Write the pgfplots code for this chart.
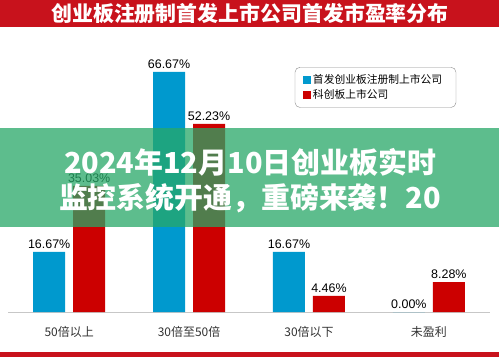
\documentclass[border=0pt]{standalone}
\usepackage{pgfplots}
\pgfplotsset{compat=1.18}
\usepackage{fontspec}
\setmainfont{Liberation Sans}
\newfontfamily\cjk{Noto Sans CJK SC}
\definecolor{cblue}{RGB}{0,153,206}
\definecolor{cred}{RGB}{204,0,0}
\definecolor{tred}{RGB}{200,18,28}
\definecolor{bgreen}{RGB}{40,168,104}
\begin{document}
\begin{tikzpicture}[x=1bp,y=1bp]
\useasboundingbox (0,0) rectangle (499,357);
\fill[white] (0,0) rectangle (499,357);
\fill[tred] (0,330) rectangle (499,357);
\node[text=white,font=\cjk\bfseries\fontsize{21}{21}\selectfont] at (250,343.5) {创业板注册制首发上市公司首发市盈率分布};
\fill[tred] (0,0) rectangle (499,5);
\begin{axis}[at={(8bp,45bp)}, anchor=south west, scale only axis,
  width=482bp, height=252bp, xmin=-0.51, xmax=3.51, ymin=0, ymax=70,
  ybar=8bp, bar width=32bp,
  axis y line=none, axis x line*=bottom,
  x axis line style={draw=black!22, line width=1bp, -},
  xtick={0,1,2,3}, xticklabels={50倍以上,30倍至50倍,30倍以下,未盈利},
  xticklabel style={font=\cjk\fontsize{12}{12}\selectfont, text=black!80, yshift=-11bp},
  major tick length=0pt,
  /pgf/number format/assume math mode=true,
  nodes near coords={\pgfmathprintnumber[fixed,fixed zerofill,precision=2]{\pgfplotspointmeta}\%},
  nodes near coords style={font=\fontsize{12.5}{12.5}\selectfont, text=black},
  point meta=y, clip=false,
  legend image code/.code={\path[#1, draw=none, sharp corners] (0bp,-4bp) rectangle (8bp,4bp);},
  legend style={at={(0.595,0.972)}, anchor=north west, draw=black!45, rounded corners=5bp,
    font=\cjk\fontsize{10.8}{10.8}\selectfont, inner xsep=8bp, inner ysep=5.5bp, row sep=0bp,
    text width=133bp},
  legend cell align=left,
]
\addplot[fill=cblue, draw=none] coordinates {(0,16.67) (1,66.67) (2,16.67) (3,0.00)};
\addplot[fill=cred, draw=none] coordinates {(0,35.03) (1,52.23) (2,4.46) (3,8.28)};
\legend{首发创业板注册制上市公司,科创板上市公司}
\end{axis}
\fill[bgreen, opacity=0.75] (0,130) rectangle (499,229);
\node[text=white,font=\cjk\bfseries\fontsize{29}{29}\selectfont] at (250,195) {2024年12月10日创业板实时};
\node[text=white,font=\cjk\bfseries\fontsize{29}{29}\selectfont] at (250,159) {监控系统开通，重磅来袭！20};
\end{tikzpicture}
\end{document}
